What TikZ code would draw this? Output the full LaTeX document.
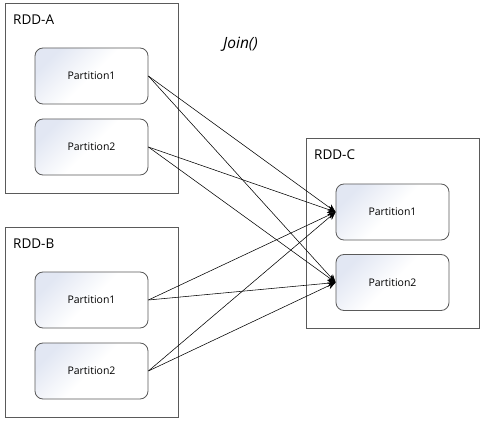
\documentclass[tikz,border=0pt]{standalone}
\usepackage{fontspec}
\setmainfont{Open Sans}
\usetikzlibrary{arrows.meta,shadows}
\definecolor{boxline}{HTML}{5A5A5A}
\definecolor{partfill}{HTML}{E2E7F3}
\tikzset{
  rdd/.style={draw=boxline, line width=0.9pt, fill=white, drop shadow={shadow xshift=1pt, shadow yshift=-1pt, opacity=0.15}},
  part/.style={draw=boxline, line width=0.8pt, rounded corners=8pt, minimum width=113pt, minimum height=56pt, inner sep=0pt,
     shade, shading=axis, top color=partfill, bottom color=white, middle color=white, shading angle=45, font=\fontsize{10.5}{12}\selectfont},
  lbl/.style={anchor=west, font=\fontsize{13.5}{15}\selectfont, inner sep=0pt},
  conn/.style={line width=0.55pt, -{Stealth[length=8pt,width=7pt]}}
}
\begin{document}
\begin{tikzpicture}[x=1pt,y=-1pt]
\useasboundingbox (0,0) rectangle (485,425);
% containers
\node[rdd, minimum width=173pt, minimum height=190pt, inner sep=0pt] (A) at (91.5,98) {};
\node[rdd, minimum width=173pt, minimum height=190pt, inner sep=0pt] (B) at (91.5,322) {};
\node[rdd, minimum width=173pt, minimum height=190pt, inner sep=0pt] (C) at (392.5,233) {};
\node[lbl] (Alab) at (13,20) {RDD-A};
\node[lbl] (Blab) at (13,244) {RDD-B};
\node[lbl] (Clab) at (314,155) {RDD-C};
\node[font=\fontsize{15.5}{18}\selectfont\itshape] (join) at (240.5,44) {Join()};
% partitions
\node[part] (a1) at (91.5,76) {Partition1};
\node[part] (a2) at (91.5,147) {Partition2};
\node[part] (b1) at (91.5,300) {Partition1};
\node[part] (b2) at (91.5,371) {Partition2};
\node[part] (c1) at (392.5,212) {Partition1};
\node[part] (c2) at (392.5,282.5) {Partition2};
% connectors
\foreach \s in {a1,a2,b1,b2}{
  \foreach \t in {c1,c2}{
    \draw[conn] (\s.east) -- (\t.west);
  }
}
\end{tikzpicture}
\end{document}
